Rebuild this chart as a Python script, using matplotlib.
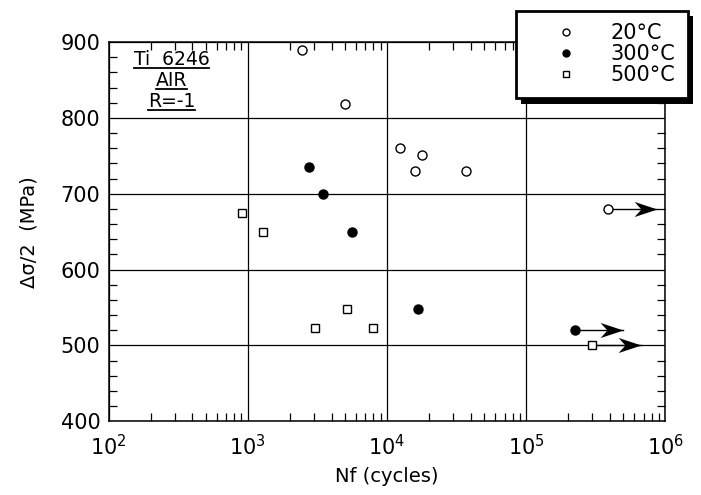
import numpy as np
import matplotlib
matplotlib.use('Agg')
import matplotlib.pyplot as plt
from matplotlib.path import Path
from matplotlib import patheffects
from matplotlib.ticker import LogLocator, MultipleLocator

# data
nf_20 = [2470, 5000, 12500, 17800, 15800, 37000]
s_20 = [890, 819, 760, 751, 730, 730]
nf_300 = [2750, 3460, 5600, 16700]
s_300 = [735, 700, 650, 548]
nf_500 = [906, 1290, 3040, 5200, 7900]
s_500 = [675, 650, 523, 548, 523]

# run-outs (no failure): start point and arrow tip
runout_nf = [386000, 225000, 299000]
runout_s = [680, 520, 501]
runout_tip = [870000, 500000, 670000]
runout_kind = ['20', '300', '500']

plt.rcParams['font.family'] = 'DejaVu Sans'
fig = plt.figure(figsize=(7.01, 4.95), dpi=100)
ax = fig.add_axes([0.155, 0.149, 0.794, 0.766])

ms = 6.5
sty = {
    '20': dict(marker='o', mfc='white', mec='black', ms=ms, mew=1.0),
    '300': dict(marker='o', mfc='black', mec='black', ms=ms, mew=1.0),
    '500': dict(marker='s', mfc='white', mec='black', ms=ms - 0.3, mew=1.0),
}

ax.plot(nf_20, s_20, ls='none', zorder=4, **sty['20'])
ax.plot(nf_300, s_300, ls='none', zorder=4, **sty['300'])
ax.plot(nf_500, s_500, ls='none', zorder=4, **sty['500'])

# notched arrow head, tip at the origin
head = Path([(0, 0), (-1, 0.33), (-0.7, 0), (-1, -0.33), (0, 0)],
            [Path.MOVETO, Path.LINETO, Path.LINETO, Path.LINETO, Path.CLOSEPOLY])
for x, y, t, k in zip(runout_nf, runout_s, runout_tip, runout_kind):
    ax.plot([x, t], [y, y], color='black', lw=1.0, zorder=3)
    ax.plot([t], [y], marker=head, ms=33, color='black', mew=0, zorder=3)
    ax.plot([x], [y], ls='none', zorder=4, **sty[k])

ax.set_xscale('log')
ax.set_xlim(1e2, 1e6)
ax.set_ylim(400, 900)
ax.yaxis.set_major_locator(MultipleLocator(100))
ax.yaxis.set_minor_locator(MultipleLocator(20))
ax.xaxis.set_major_locator(LogLocator(base=10))
ax.xaxis.set_minor_locator(LogLocator(base=10, subs=np.arange(2, 10)))

ax.grid(True, which='major', color='black', lw=0.9)
ax.tick_params(which='both', direction='in', top=True, right=True, color='black')
ax.tick_params(which='major', length=0, labelsize=15, pad=9)
ax.tick_params(axis='y', which='major', pad=6)
ax.tick_params(which='minor', length=6, width=0.9)
for sp in ax.spines.values():
    sp.set_linewidth(1.1)

ax.set_xlabel('Nf (cycles)', fontsize=14, labelpad=6)
ax.set_ylabel('Δσ/2  (MPa)', fontsize=14, labelpad=16)

# labels in the upper left
lbls = ['Ti  6246', 'AIR', 'R=-1']
ys = [0.955, 0.898, 0.843]
txts = []
for s, yy in zip(lbls, ys):
    txts.append(ax.text(0.113, yy, s, transform=ax.transAxes, ha='center', va='center',
                        fontsize=13.5))

# legend
h20, = ax.plot([], [], ls='none', **dict(sty['20'], ms=5))
h300, = ax.plot([], [], ls='none', **dict(sty['300'], ms=5))
h500, = ax.plot([], [], ls='none', **dict(sty['500'], ms=5))
leg = ax.legend([h20, h300, h500], ['20°C', '300°C', '500°C'], loc='upper right',
                bbox_to_anchor=(0.981, 0.978), bbox_transform=fig.transFigure,
                fontsize=15, frameon=True, fancybox=False, framealpha=1.0,
                handlelength=3.65, handletextpad=0.3, borderpad=0.6,
                labelspacing=0.05, borderaxespad=0)
leg.get_frame().set_facecolor('white')
leg.get_frame().set_edgecolor('black')
leg.get_frame().set_linewidth(2.0)
leg.get_frame().set_path_effects([
    patheffects.SimplePatchShadow(offset=(4, -4), shadow_rgbFace='black', alpha=1.0),
    patheffects.Normal()])
leg.set_zorder(10)

# underline the label text
fig.canvas.draw()
r = fig.canvas.get_renderer()
for t in txts:
    bb = t.get_window_extent(r)
    yline = bb.y0 + 1
    ax.plot([bb.x0, bb.x1], [yline, yline], transform=None, color='black', lw=1.3,
            clip_on=False)

fig.savefig('out.png', dpi=100)
